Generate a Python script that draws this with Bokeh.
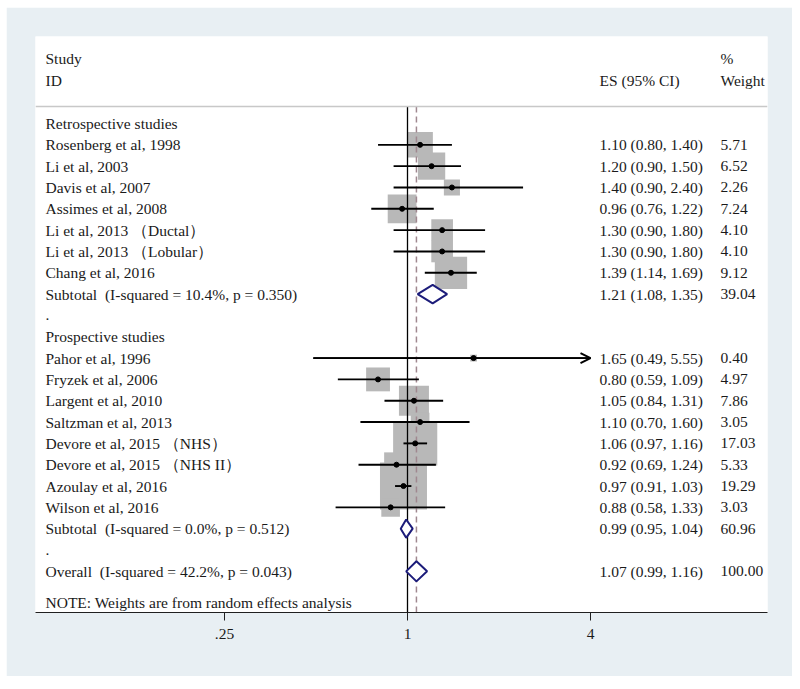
import numpy as np
from bokeh.plotting import figure
from bokeh.models import Range1d, FixedTicker, Span, Arrow, OpenHead
from bokeh.core.properties import value
from bokeh.embed import file_html
from bokeh.resources import INLINE

# ---------------- data ----------------
labels = [
    "Retrospective studies",
    "Rosenberg et al, 1998",
    "Li et al, 2003",
    "Davis et al, 2007",
    "Assimes et al, 2008",
    "Li et al, 2013 \uff08Ductal\uff09",
    "Li et al, 2013 \uff08Lobular\uff09",
    "Chang et al, 2016",
    "Subtotal\u00a0\u00a0(I-squared = 10.4%, p = 0.350)",
    ".",
    "Prospective studies",
    "Pahor et al, 1996",
    "Fryzek et al, 2006",
    "Largent et al, 2010",
    "Saltzman et al, 2013",
    "Devore et al, 2015 \uff08NHS\uff09",
    "Devore et al, 2015 \uff08NHS II\uff09",
    "Azoulay et al, 2016",
    "Wilson et al, 2016",
    "Subtotal\u00a0\u00a0(I-squared = 0.0%, p = 0.512)",
    ".",
    "Overall\u00a0\u00a0(I-squared = 42.2%, p = 0.043)",
]

study_rows = [1, 2, 3, 4, 5, 6, 7, 11, 12, 13, 14, 15, 16, 17, 18]
study_es   = [1.10, 1.20, 1.40, 0.96, 1.30, 1.30, 1.39, 1.65, 0.80, 1.05, 1.10, 1.06, 0.92, 0.97, 0.88]
study_lo   = [0.80, 0.90, 0.90, 0.76, 0.90, 0.90, 1.14, 0.49, 0.59, 0.84, 0.70, 0.97, 0.69, 0.91, 0.58]
study_hi   = [1.40, 1.50, 2.40, 1.22, 1.80, 1.80, 1.69, 5.55, 1.09, 1.31, 1.60, 1.16, 1.24, 1.03, 1.33]
study_wt   = [5.71, 6.52, 2.26, 7.24, 4.10, 4.10, 9.12, 0.40, 4.97, 7.86, 3.05, 17.03, 5.33, 19.29, 3.03]

pool_rows = [8, 19, 21]
pool_es   = [1.21, 0.99, 1.07]
pool_lo   = [1.08, 0.95, 0.99]
pool_hi   = [1.35, 1.04, 1.16]
pool_wt   = [39.04, 60.96, 100.00]

overall_es = 1.07
tick_values = [0.25, 1, 4]
tick_labels = [".25", "1", "4"]
note = "NOTE: Weights are from random effects analysis"

# ---------------- layout / style constants ----------------
FONT = "Liberation Serif"
FS = "15.5px"
TXT = "#1a1a1a"
PX_PER_DOUBLING = 91.5
X1_PX = 372.0          # position of x=1 inside the frame
FRAME_W = 732
AXIS_MAX = 4.0

def px2x(px):
    return 2 ** ((px - X1_PX) / PX_PER_DOUBLING)

x_start = px2x(0)
x_end = px2x(FRAME_W)
y_top, y_bot = -4.08, 22.93
sep_y = -0.80

p = figure(width=786, height=669, x_axis_type="log",
           x_range=Range1d(x_start, x_end), y_range=Range1d(y_bot, y_top),
           output_backend="svg", toolbar_location=None,
           min_border_left=29, min_border_right=25, min_border_top=29, min_border_bottom=64)
p.margin = (7, 6, 10, 6)
p.border_fill_color = "#e8eff3"
p.background_fill_color = "white"
p.outline_line_color = None
p.xgrid.visible = False
p.ygrid.visible = False
p.yaxis.visible = False

ax = p.xaxis[0]
ax.ticker = FixedTicker(ticks=tick_values, minor_ticks=[])
ax.major_label_overrides = {float(v): l for v, l in zip(tick_values, tick_labels)}
ax.major_label_text_font = FONT
ax.major_label_text_font_size = FS
ax.major_label_text_color = TXT
ax.major_tick_out = 8
ax.major_tick_in = 0
ax.minor_tick_out = 0
ax.minor_tick_in = 0
ax.axis_line_color = "#202020"
ax.major_tick_line_color = "#202020"
ax.major_label_standoff = 8

# header separator
p.add_layout(Span(location=sep_y, dimension="width", line_color="#c8c8c8", line_width=1.5))

# squares (weights), drawn first
sizes = [10.7 * np.sqrt(w) for w in study_wt]
p.rect(x=study_es, y=study_rows, width=sizes, height=sizes,
       width_units="screen", height_units="screen",
       fill_color="#b8b8b8", line_color=None)

# null line and overall dashed line
p.segment(x0=[1], y0=[sep_y], x1=[1], y1=[y_bot], line_color="black", line_width=1.3)
p.segment(x0=[overall_es], y0=[sep_y], x1=[overall_es], y1=[y_bot],
          line_color="#a08890", line_width=1.5, line_dash="6 4")

# CI lines
hi_clip = [min(h, AXIS_MAX) for h in study_hi]
p.segment(x0=study_lo, y0=study_rows, x1=hi_clip, y1=study_rows,
          line_color="black", line_width=1.9)
for lo, hi, r in zip(study_lo, study_hi, study_rows):
    if hi > AXIS_MAX:
        p.add_layout(Arrow(end=OpenHead(size=10, line_width=2, line_color="black"),
                           x_start=lo, y_start=r, x_end=AXIS_MAX, y_end=r,
                           line_color="black", line_width=1.9))

# point estimates
p.scatter(x=study_es, y=study_rows, size=5, color="black")

# diamonds
dxs, dys = [], []
for es, lo, hi, r, w in zip(pool_es, pool_lo, pool_hi, pool_rows, pool_wt):
    h = 0.47 if w >= 100 else 0.43
    dxs.append([lo, es, hi, es])
    dys.append([r, r - h, r, r + h])
p.patches(xs=dxs, ys=dys, fill_color="white", line_color="#1c1c7a", line_width=2)

# texts
def put(x, y, t):
    p.text(x=x, y=y, text=t, text_font=value(FONT), text_font_size=FS,
           text_color=TXT, text_baseline="middle", text_align="left")

lab_x = px2x(10)
es_x = px2x(564)
wt_x = px2x(685)

put([lab_x, lab_x], [-3.05, -2.02], ["Study", "ID"])
put([es_x], [-2.02], ["ES (95% CI)"])
put([wt_x, wt_x], [-3.05, -2.02], ["%", "Weight"])

put([lab_x] * len(labels), list(range(len(labels))), labels)
put([lab_x], [22.45], [note])

all_rows = study_rows + pool_rows
all_es = study_es + pool_es
all_lo = study_lo + pool_lo
all_hi = study_hi + pool_hi
all_wt = study_wt + pool_wt
es_txt = [f"{e:.2f} ({l:.2f}, {h:.2f})" for e, l, h in zip(all_es, all_lo, all_hi)]
wt_txt = [f"{w:.2f}" for w in all_wt]
put([es_x] * len(all_rows), all_rows, es_txt)
put([wt_x] * len(all_rows), all_rows, wt_txt)

open("out.html", "w").write(file_html(p, INLINE))
